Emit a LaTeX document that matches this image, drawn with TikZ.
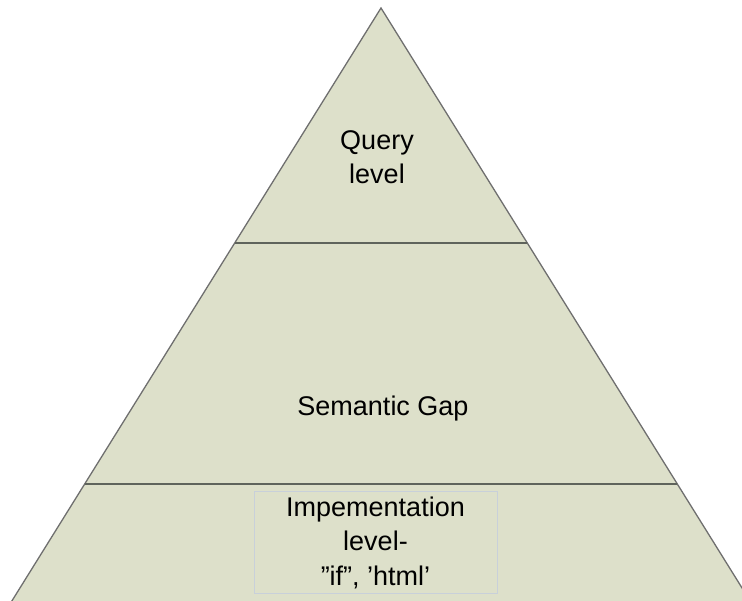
\documentclass[tikz,border=0pt]{standalone}
\usepackage{fontspec}
\setmainfont{Liberation Sans}
\definecolor{pyrfill}{HTML}{DDE0CA}
\definecolor{pyredge}{HTML}{6F6F6F}
\definecolor{bandline}{HTML}{5F645C}
\definecolor{boxedge}{HTML}{C8D0DA}
\begin{document}
\begin{tikzpicture}[x=1pt,y=-1pt,
  label/.style={font=\fontsize{27}{34.5}\selectfont, align=center, inner sep=0pt, text=black},
  band/.style={draw=bandline, line width=1.5pt},
  codebox/.style={draw=boxedge, line width=1pt, minimum width=243pt, minimum height=101pt, inner sep=0pt}]
  \useasboundingbox (0,0) rectangle (742,601);
  \clip (0,0) rectangle (742,601);
  % pyramid outline
  \coordinate (apex) at (381,8);
  \coordinate (bl) at (5,612);
  \coordinate (br) at (757,612);
  \filldraw[fill=pyrfill, draw=pyredge, line width=1.3pt, line join=miter] (apex) -- (br) -- (bl) -- cycle;
  % level dividers
  \coordinate (d1l) at (235,243);
  \coordinate (d1r) at (527,243);
  \coordinate (d2l) at (85,484);
  \coordinate (d2r) at (677,484);
  \draw[band] (d1l) -- (d1r);
  \draw[band] (d2l) -- (d2r);
  % labels
  \node[label] (query) at (377,157) {Query\\level};
  \node[label] (gap) at (383,409) {Semantic Gap};
  \node[codebox, label] (impl) at (375.5,542.5) {Impementation\\level-\\”if”, ’html’};
\end{tikzpicture}
\end{document}
